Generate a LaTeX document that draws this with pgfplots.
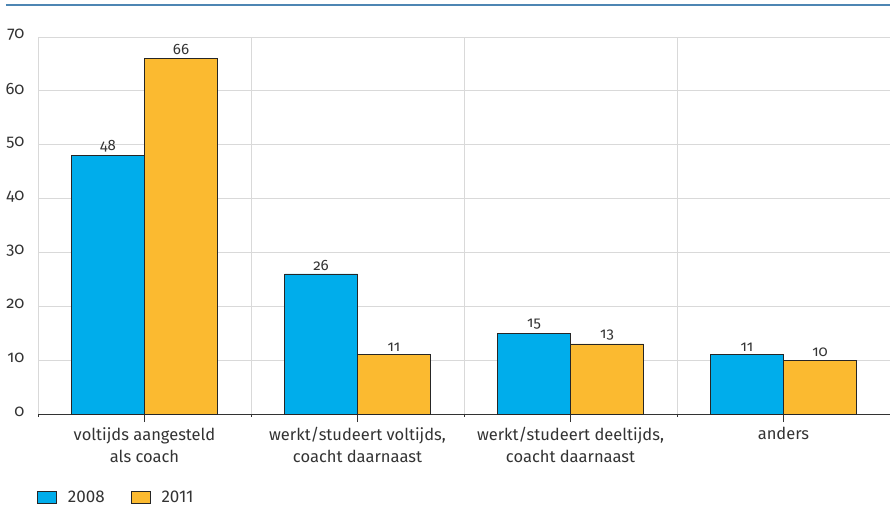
\documentclass[border=0pt]{standalone}
\usepackage{pgfplots}
\pgfplotsset{compat=1.18}
\usepackage{fontspec}
\setmainfont{Fira Sans}[Numbers=OldStyle]
\newfontfamily\lining{Fira Sans}[Numbers=Lining]
\definecolor{cblue}{HTML}{00ADEB}
\definecolor{corange}{HTML}{FBBA30}
\definecolor{topline}{HTML}{4D86B3}
\definecolor{gridc}{HTML}{D9D9D9}
\definecolor{txt}{HTML}{333333}
\begin{document}
\begin{tikzpicture}[x=1pt,y=1pt]
\useasboundingbox (-38,-95) rectangle (852,414);
\draw[topline,line width=2pt] (-32,409) -- (852,409);
\begin{axis}[
  at={(0,0)}, anchor=south west,
  scale only axis, width=852pt, height=377pt,
  ybar=0pt, bar width=73pt,
  xmin=-0.5, xmax=3.5, ymin=0, ymax=70,
  xtick={0,1,2,3},
  xticklabels={{voltijds aangesteld\\als coach},{werkt/studeert voltijds,\\coacht daarnaast},{werkt/studeert deeltijds,\\coacht daarnaast},{anders}},
  xticklabel style={align=center, font=\fontsize{16.5}{22}\selectfont, text=txt, yshift=-2pt},
  minor xtick={-0.5,0.5,1.5,2.5,3.5},
  minor x grid style={gridc, line width=1pt},
  xminorgrids=true,
  ytick={0,10,...,70},
  ymajorgrids=true,
  major grid style={gridc, line width=1pt},
  yticklabel style={font=\fontsize{16.5}{18}\selectfont, text=txt, anchor=east, xshift=-2pt, yshift=2pt},
  /pgf/number format/assume math mode=true,
  axis x line*=bottom, axis y line*=left,
  x axis line style={draw=txt, line width=0.8pt, -},
  y axis line style={draw=none},
  tick align=outside,
  major tick length=8pt,
  xtick style={draw=txt, line width=0.8pt},
  ytick style={draw=none},
  nodes near coords,
  every node near coord/.append style={font=\fontsize{15}{17}\selectfont, text=txt},
  legend columns=2,
  legend style={at={(0,0)}, anchor=north west, yshift=-73pt, xshift=-4pt, draw=none, fill=none,
    font=\lining\fontsize{17}{19}\selectfont, text=txt,
    /tikz/every odd column/.append style={column sep=9pt},
    /tikz/every even column/.append style={column sep=24pt}},
  legend image code/.code={\draw[#1, draw=black!85, line width=0.8pt] (0pt,-6pt) rectangle (19pt,6pt);},
  clip=false,
]
\addplot[fill=cblue, draw=black!85, line width=0.8pt] coordinates {(0,48) (1,26) (2,15) (3,11)};
\addplot[fill=corange, draw=black!85, line width=0.8pt] coordinates {(0,66) (1,11) (2,13) (3,10)};
\legend{2008,2011}
\end{axis}
\end{tikzpicture}
\end{document}
